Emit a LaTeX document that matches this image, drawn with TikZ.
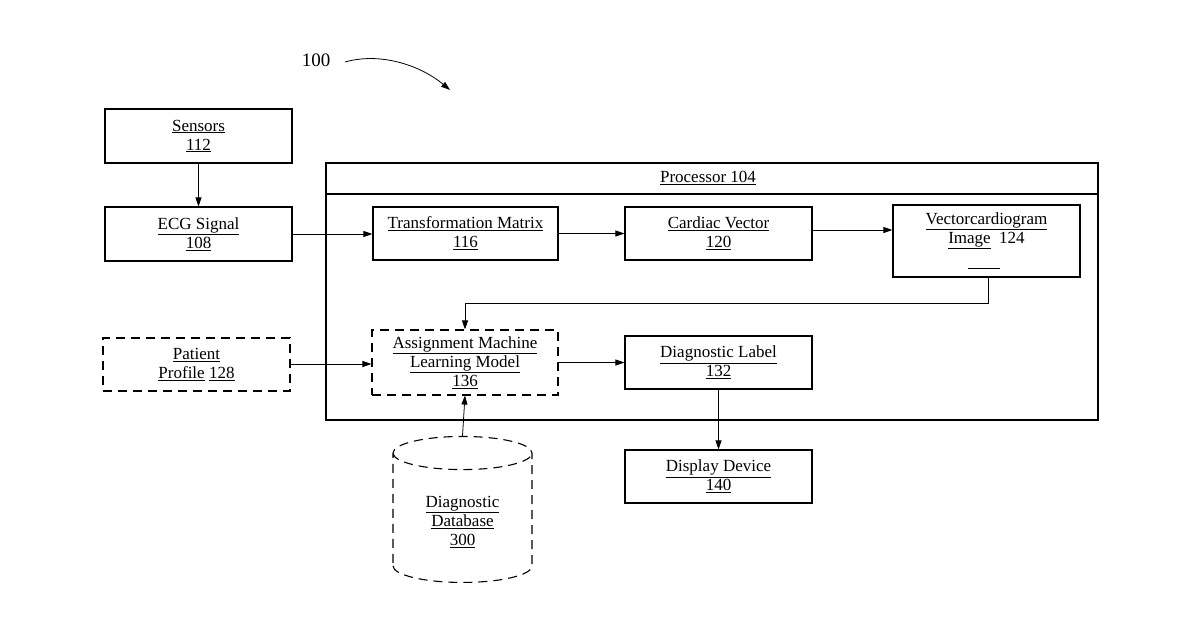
\documentclass[tikz,border=0pt]{standalone}
\usepackage{fontspec}
\setmainfont{Liberation Serif}
\usetikzlibrary{arrows.meta,shapes.geometric}
\begin{document}
\begin{tikzpicture}[x=1pt,y=-1pt,
  box/.style={draw,line width=1.1pt,minimum width=187pt,minimum height=54pt,align=center,inner sep=0pt,font=\fontsize{17}{19}\selectfont},
  dbox/.style={box,dashed,dash pattern=on 9pt off 6pt},
  arr/.style={-{Triangle[length=9pt,width=6pt]},line width=0.8pt},
  u/.code={}]
\useasboundingbox (0,0) rectangle (1200,630);
\node[font=\fontsize{19}{21}\selectfont] (n100) at (316,60) {100};
\coordinate (c1) at (345,62);
\coordinate (c2) at (450,90);
\draw[arr] (c1) .. controls (380,52) and (420,65) .. (c2);
\node[box] (sens) at (198.5,136) {\underline{Sensors}\\\underline{112}};
\node[box] (ecg) at (198.5,234) {\underline{ECG Signal}\\\underline{108}};
\node[draw,line width=1.1pt,minimum width=772pt,minimum height=257pt,inner sep=0pt] (proc) at (712,291.5) {};
\draw[line width=1.1pt] (326,194) -- (1098,194);
\node[font=\fontsize{17}{19}\selectfont] (ptitle) at (708,178) {\underline{Processor 104}};
\node[box,minimum width=185pt,minimum height=53pt] (tm) at (465.5,233.5) {\underline{Transformation Matrix}\\\underline{116}};
\node[box,minimum height=53pt] (cv) at (718.5,233.5) {\underline{Cardiac Vector}\\\underline{120}};
\node[box,minimum height=72pt] (vcg) at (986.5,241) {};
\node[font=\fontsize{17}{19}\selectfont,align=center] (vcgt) at (986.5,231) {\underline{Vectorcardiogram}\\\underline{Image}\ \ 124};
\draw[line width=0.8pt] (968,268) -- (1000,268);
\node[dbox,minimum width=186pt,minimum height=65pt] (aml) at (465,362.5) {\underline{Assignment Machine}\\\underline{Learning Model}\\\underline{136}};
\node[dbox,minimum height=53pt] (pp) at (196.5,364.5) {\underline{Patient}\\\underline{Profile} \underline{128}};
\node[box,minimum height=53pt] (dl) at (718.5,362.5) {\underline{Diagnostic Label}\\\underline{132}};
\node[box,minimum height=53pt] (dd) at (718.5,476.5) {\underline{Display Device}\\\underline{140}};
\node[cylinder,shape border rotate=90,draw,line width=1.1pt,dashed,dash pattern=on 9pt off 6pt,minimum width=139pt,minimum height=146pt,aspect=0.45,align=center,font=\fontsize{17}{19}\selectfont,inner sep=0pt] (db) at (462.5,518) {\\\underline{Diagnostic}\\\underline{Database}\\\underline{300}};
\draw[arr] (sens) -- (ecg);
\draw[arr] (ecg.east |- 0,234) -- (tm.west |- 0,234);
\draw[arr] (tm) -- (cv);
\draw[arr] (cv.east |- 0,230) -- (vcg.west |- 0,230);
\draw[arr] (vcg.south -| 988,0) |- (465,303) -- (aml.north);
\draw[arr] (pp.east |- 0,364) -- (aml.west |- 0,364);
\draw[arr] (aml) -- (dl);
\draw[arr] (dl) -- (dd);
\draw[arr] (db.top) -- (aml.south);
\end{tikzpicture}
\end{document}
